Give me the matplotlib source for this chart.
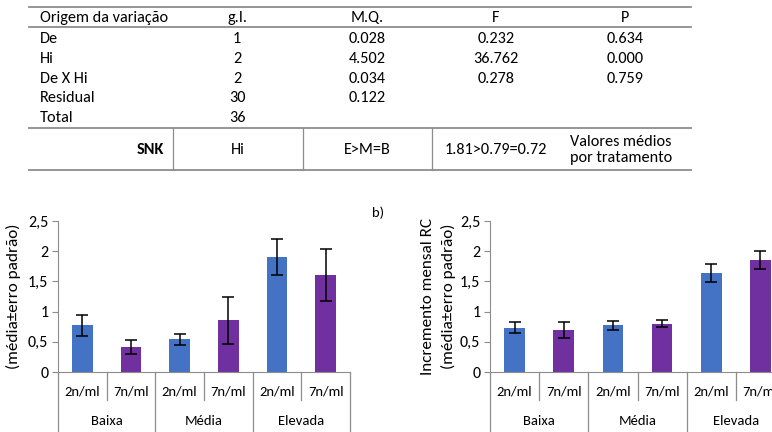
import matplotlib
matplotlib.use("Agg")
import matplotlib.pyplot as plt
import matplotlib.transforms as mtransforms

plt.rcParams['font.family'] = ['Carlito', 'Lato', 'DejaVu Sans']

# --- table data ---
tab_header = ["Origem da variação", "g.I.", "M.Q.", "F", "P"]
tab_source = ["De", "Hi", "De X Hi", "Residual", "Total"]
tab_gl = ["1", "2", "2", "30", "36"]
tab_mq = ["0.028", "4.502", "0.034", "0.122", ""]
tab_f = ["0.232", "36.762", "0.278", "", ""]
tab_p = ["0.634", "0.000", "0.759", "", ""]
snk_row = ["SNK", "Hi", "E>M=B", "1.81>0.79=0.72", "Valores médios\npor tratamento"]

# --- chart data ---
levels = ["Baixa", "Média", "Elevada"]
doses = ["2n/ml", "7n/ml"]
left_means = [0.77, 0.41, 0.54, 0.86, 1.91, 1.61]
left_err = [0.17, 0.12, 0.09, 0.39, 0.30, 0.43]
right_means = [0.73, 0.70, 0.77, 0.80, 1.64, 1.85]
right_err = [0.09, 0.13, 0.07, 0.06, 0.15, 0.15]
yticks = [0, 0.5, 1, 1.5, 2, 2.5]
ytick_labels = ["0", "0,5", "1", "1,5", "2", "2,5"]

blue = "#4472C4"
purple = "#7030A0"
grey = "#8C8C8C"

W, H = 772, 432
fig = plt.figure(figsize=(W / 100, H / 100), dpi=100)

# full figure axes in pixel coords for the table
bg = fig.add_axes([0, 0, 1, 1])
bg.set_xlim(0, W)
bg.set_ylim(H, 0)
bg.axis("off")

fs = 11.7
for yl in [7, 27, 128, 170]:
    bg.plot([29, 691], [yl, yl], color=grey, lw=1.3)
for xl in [173, 303, 432]:
    bg.plot([xl, xl], [128, 170], color=grey, lw=0.9)

col_x = [40, 237, 367, 496, 625]
bg.text(col_x[0], 18, tab_header[0], fontsize=fs, ha="left", va="center")
for cx, h in zip(col_x[1:], tab_header[1:]):
    bg.text(cx, 18, h, fontsize=fs, ha="center", va="center")
for i in range(len(tab_source)):
    yy = 39 + 19.8 * i
    bg.text(col_x[0], yy, tab_source[i], fontsize=fs, ha="left", va="center")
    for cx, col in zip(col_x[1:], [tab_gl, tab_mq, tab_f, tab_p]):
        bg.text(cx, yy, col[i], fontsize=fs, ha="center", va="center")

bg.text(164, 150, snk_row[0], fontsize=fs, ha="right", va="center", fontweight="bold")
bg.text(238, 150, snk_row[1], fontsize=fs, ha="center", va="center")
bg.text(367, 150, snk_row[2], fontsize=fs, ha="center", va="center")
bg.text(496, 150, snk_row[3], fontsize=fs, ha="center", va="center")
bg.text(570, 150, snk_row[4], fontsize=fs, ha="left", va="center", linespacing=1.25)

bg.text(378, 213, "b)", fontsize=10.5, ha="center", va="center")


def bar_chart(ax, means, errs, ylabels, pad):
    x = list(range(len(means)))
    colors = [blue, purple] * len(levels)
    ax.bar(x, means, width=0.42, color=colors, zorder=2)
    ax.errorbar(x, means, yerr=errs, fmt="none", ecolor="black",
                elinewidth=1.1, capsize=4.5, capthick=1.1, zorder=3)
    ax.set_xlim(-0.5, len(means) - 0.5)
    ax.set_ylim(0, 2.5)
    ax.set_yticks(yticks)
    ax.set_yticklabels(ytick_labels, fontsize=11.5)
    ax.set_xticks([])
    for s in ["top", "right"]:
        ax.spines[s].set_visible(False)
    ax.spines["left"].set_color(grey)
    ax.spines["bottom"].set_color(grey)
    ax.tick_params(axis="y", length=4, color=grey, pad=3)

    tr = mtransforms.blended_transform_factory(ax.transData, ax.transAxes)
    short = -28 / 151
    long_ = -62 / 151
    for k in range(len(means) + 1):
        xb = k - 0.5
        yb = long_ if k % 2 == 0 else short
        ax.plot([xb, xb], [0, yb], transform=tr, color=grey, lw=0.9, clip_on=False)
    for k in range(len(means)):
        ax.text(k, -20 / 151, doses[k % 2], transform=tr, fontsize=10.5,
                ha="center", va="center")
    for j, lev in enumerate(levels):
        ax.text(2 * j + 0.5, -49 / 151, lev, transform=tr, fontsize=10.5,
                ha="center", va="center")
    ax.set_ylabel(ylabels, fontsize=12.3, labelpad=pad, linespacing=1.5)


ax1 = fig.add_axes([58 / W, (H - 372) / H, 292 / W, 151 / H])
bar_chart(ax1, left_means, left_err, "(média±erro padrão)", 5)

ax2 = fig.add_axes([490 / W, (H - 372) / H, 295 / W, 151 / H])
bar_chart(ax2, right_means, right_err, "Incremento mensal RC\n(média±erro padrão)", 3)

fig.savefig("out.png", dpi=100)
